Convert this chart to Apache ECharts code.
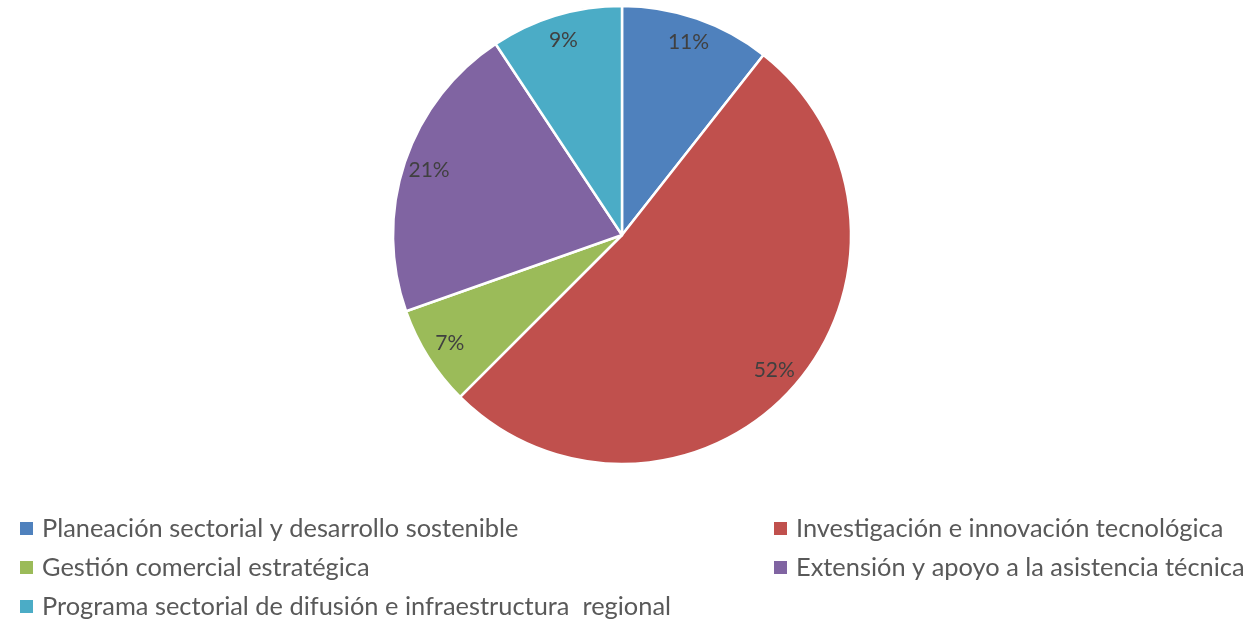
<!DOCTYPE html>
<html>
<head>
<meta charset="utf-8">
<script src="https://cdn.jsdelivr.net/npm/echarts@6/dist/echarts.min.js"></script>
<style>
  html, body { margin: 0; padding: 0; background: #fff; }
  #chart { width: 1248px; height: 620px; }
</style>
</head>
<body>
<div id="chart"></div>
<script>
var categories = [
  'Planeación sectorial y desarrollo sostenible',
  'Investigación e innovación tecnológica',
  'Gestión comercial estratégica',
  'Extensión y apoyo a la asistencia técnica',
  'Programa sectorial de difusión e infraestructura  regional'
];
var values = [10.6, 51.9, 7.1, 21.1, 9.3];
var colors = ['#4F81BD', '#C0504D', '#9BBB59', '#8064A2', '#4BACC6'];

var pieData = categories.map(function (name, i) {
  return { name: name, value: values[i], itemStyle: { color: colors[i] } };
});
var labelData = categories.map(function (name, i) {
  return { name: name, value: values[i] };
});

var legendText = {
  fontFamily: 'Lato', fontSize: 25.4, color: '#595959', lineHeight: 25,
  padding: [0, 0, 0, 3]
};

var chart = echarts.init(document.getElementById('chart'));
chart.setOption({
  animation: false,
  legend: [{
    orient: 'vertical',
    left: 18,
    top: 516,
    height: 104,
    padding: 0,
    icon: 'rect',
    itemWidth: 15,
    itemHeight: 15,
    itemGap: 14,
    selectedMode: false,
    textStyle: legendText,
    data: [categories[0], categories[2], categories[4]]
  }, {
    orient: 'vertical',
    left: 772,
    top: 516,
    height: 104,
    padding: 0,
    icon: 'rect',
    itemWidth: 15,
    itemHeight: 15,
    itemGap: 14,
    selectedMode: false,
    textStyle: legendText,
    data: [categories[1], categories[3]]
  }],
  series: [{
    type: 'pie',
    center: [622, 235],
    radius: [0, 229],
    startAngle: 90,
    clockwise: true,
    percentPrecision: 0,
    itemStyle: { borderColor: '#fff', borderWidth: 2.5 },
    label: { show: false },
    labelLine: { show: false },
    emphasis: { disabled: true },
    data: pieData
  }, {
    // transparent ring used only to place the percent labels near the rim
    type: 'pie',
    center: [622, 235],
    radius: [172, 229],
    startAngle: 90,
    clockwise: true,
    percentPrecision: 0,
    silent: true,
    itemStyle: { color: 'rgba(0,0,0,0)', borderWidth: 0 },
    label: {
      show: true,
      position: 'inside',
      formatter: '{d}%',
      fontFamily: 'Lato',
      fontSize: 21,
      color: '#404040'
    },
    labelLine: { show: false },
    emphasis: { disabled: true },
    data: labelData
  }]
});
</script>
</body>
</html>
